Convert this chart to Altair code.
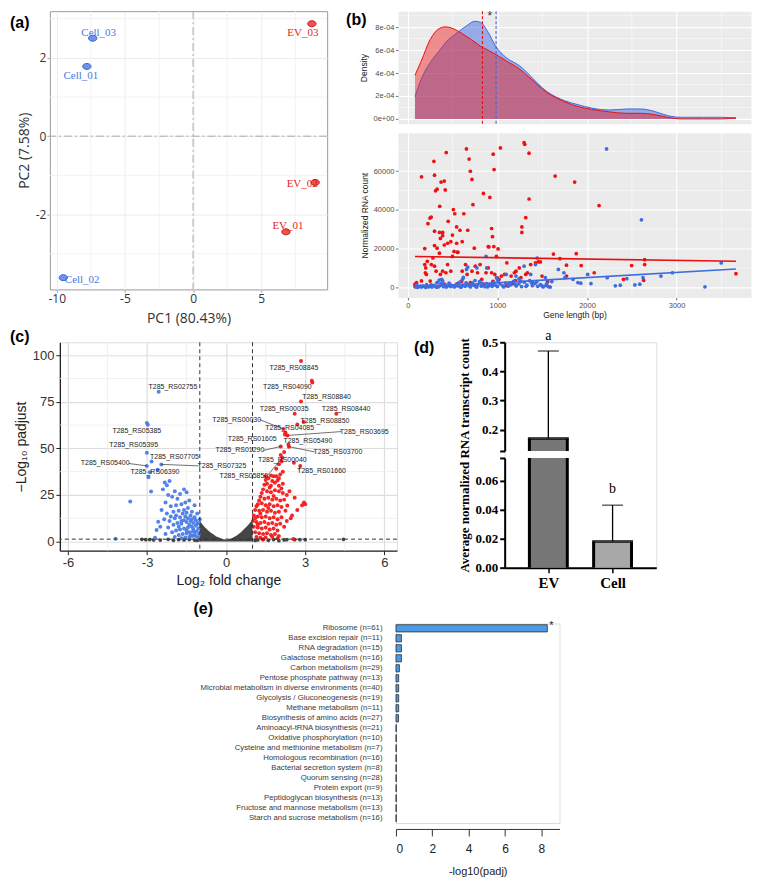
import altair as alt
import pandas as pd

SANS = "Liberation Sans"
SERIF = "Liberation Serif"

# ================= (a) PCA =================
pca_name = ["Cell_01", "Cell_02", "Cell_03", "EV_01", "EV_02", "EV_03"]
pca_group = ["Cell", "Cell", "Cell", "EV", "EV", "EV"]
pca_pc1 = [-7.79, -9.52, -7.36, 6.81, 8.95, 8.71]
pca_pc2 = [1.78, -3.61, 2.50, -2.44, -1.18, 2.87]
pca_x_ticks = [-10, -5, 0, 5]
pca_y_ticks = [-2, 0, 2]
pca_x_minor = [-7.5, -2.5, 2.5, 7.5]
pca_y_minor = [-3, -1, 1, 3]

# ================= (b) density =================
dens_bp = [80, 150, 250, 350, 420, 550, 650, 750, 810, 900, 980, 1100, 1250, 1350, 1450,
           1550, 1650, 1750, 1900, 2050, 2250, 2450, 2600, 2750, 2900, 3050, 3300, 3500, 3662]
dens_ev = [3.81e-4, 5.05e-4, 6.93e-4, 7.88e-4, 8.03e-4, 7.71e-4, 7.22e-4, 6.70e-4, 6.35e-4,
           5.98e-4, 5.63e-4, 5.05e-4, 4.33e-4, 3.67e-4, 2.97e-4, 2.31e-4, 1.88e-4, 1.50e-4,
           1.07e-4, 0.84e-4, 0.61e-4, 0.49e-4, 0.49e-4, 0.38e-4, 0.14e-4, 0.0, 0.0, 0.0, 0.09e-4]
dens_cell = [1.93e-4, 3.47e-4, 4.91e-4, 5.92e-4, 6.64e-4, 7.51e-4, 8.09e-4, 8.52e-4, 8.43e-4,
             7.51e-4, 6.35e-4, 5.34e-4, 4.62e-4, 3.90e-4, 3.09e-4, 2.40e-4, 1.93e-4, 1.59e-4,
             1.24e-4, 0.95e-4, 0.78e-4, 0.87e-4, 0.87e-4, 0.66e-4, 0.29e-4, 0.14e-4, 0.14e-4,
             0.14e-4, 0.09e-4]
dens_median_ev = [833]
dens_median_cell = [985]
dens_sig_bp = [916]
dens_sig_y = [9.2e-4]
b_x_ticks = [0, 1000, 2000, 3000]
b_x_minor = [500, 1500, 2500, 3500]
dens_y_ticks = [0, 2e-4, 4e-4, 6e-4, 8e-4]
dens_y_minor = [1e-4, 3e-4, 5e-4, 7e-4, 9e-4]
cnt_y_ticks = [0, 20000, 40000, 60000]
cnt_y_minor = [10000, 30000, 50000, 70000]

# ================= (b) scatter (gene length, normalized count) =================
ev_points = [
    (153, 57060), (291, 65000), (298, 57900), (309, 49800), (327, 50640), (356, 41860),
    (371, 54350), (407, 54860), (418, 50300), (429, 69550), (225, 32900), (247, 35800),
    (262, 36300), (298, 29000), (353, 28360), (389, 28360), (364, 25300), (298, 21600),
    (189, 20090), (451, 34100), (509, 40170), (524, 38000), (545, 31200), (582, 29500),
    (625, 38000), (669, 29500), (716, 55700), (654, 71400), (684, 66200), (698, 59900),
    (727, 42700), (742, 20250), (844, 48450), (916, 46400), (935, 30400), (945, 26200),
    (953, 68700), (963, 60800), (905, 20900), (1007, 19900), (1033, 71900), (1298, 74600),
    (1305, 73800), (1353, 69200), (1353, 45600), (1316, 36000), (1273, 31200), (1273, 28360),
    (1644, 57400), (1862, 54350), (2134, 42200), (327, 20250), (407, 21900), (444, 22800),
    (480, 23600), (498, 27000), (545, 22800), (607, 23600), (898, 21100), (960, 21100),
    (989, 16000), (389, 26700), (553, 18200), (516, 18600), (189, 11800), (200, 10100),
    (218, 13500), (207, 6750), (196, 7600), (262, 11800), (280, 15200), (298, 11000),
    (316, 8400), (353, 17700), (364, 6750), (389, 8400), (425, 7600), (444, 11800),
    (480, 8400), (498, 16000), (560, 18100), (607, 8400), (644, 11800), (662, 6750),
    (716, 8400), (753, 11000), (778, 7600), (807, 11800), (825, 4200), (873, 7600),
    (898, 10100), (935, 7600), (971, 6750), (1018, 4200), (1044, 5900), (1080, 6750),
    (1105, 12700), (1153, 5900), (1189, 7600), (1207, 8400), (1244, 10100), (1262, 5060),
    (1316, 6750), (1335, 7600), (1371, 11800), (1425, 12700), (1455, 13200), (1480, 13200),
    (1498, 5900), (98, 2500), (153, 3400), (327, 2500), (407, 1700), (553, 2000),
    (698, 2500), (844, 1700), (953, 2500), (1171, 2000), (1389, 2500), (80, 1700),
    (80, 500), (1625, 17200), (1698, 14850), (1771, 11480), (1771, 5900), (1935, 11300),
    (1880, 17400), (2080, 7600), (2407, 4200), (2498, 11300), (2643, 11800), (2643, 14350),
    (2632, 3700), (3662, 7100), (1560, 3000), (1200, 3500), (950, 3200), (600, 3000),
    (250, 3300), (1100, 1000), (700, 800), (1000, 5000),
]
cell_points = [
    (90, 300), (100, 1200), (120, 500), (150, 200), (170, 900), (190, 400), (210, 1500),
    (230, 300), (250, 800), (270, 200), (290, 1100), (310, 600), (330, 2500), (340, 300),
    (360, 900), (380, 1800), (400, 400), (420, 1300), (440, 700), (460, 2200), (480, 500),
    (500, 1000), (520, 300), (540, 1600), (560, 800), (580, 2800), (600, 400), (620, 1200),
    (640, 600), (660, 1900), (680, 900), (700, 300), (720, 2400), (740, 1100), (760, 500),
    (780, 1500), (800, 3000), (820, 700), (840, 1300), (860, 400), (880, 2000), (900, 900),
    (920, 1600), (940, 600), (960, 2600), (980, 1100), (1000, 500), (1030, 1800), (1060, 900),
    (1090, 2300), (1120, 700), (1150, 1400), (1180, 3100), (1210, 800), (1240, 1900),
    (1270, 500), (1300, 2700), (1330, 1200), (1360, 3500), (1390, 900), (1420, 2000),
    (1450, 600), (1480, 1500), (1510, 300), (1540, 1000), (1570, 400), (110, 100), (140, 700),
    (200, 100), (260, 1400), (320, 150), (370, 2000), (430, 200), (470, 1700), (530, 900),
    (590, 150), (650, 2400), (710, 1300), (770, 200), (830, 2100), (890, 300), (950, 1500),
    (1010, 2900), (1070, 300), (1130, 2200), (1200, 1500), (1260, 3200), (1320, 600),
    (1380, 2400), (1440, 3000), (1500, 800), (1550, 2000), (1590, 200), (350, 3800),
    (610, 4200), (750, 3600), (1000, 4000), (1240, 4500), (669, 10470), (655, 9290),
    (771, 10100), (880, 10100), (873, 16040), (1298, 11000), (1425, 11800), (1444, 15200),
    (378, 4200), (389, 3400), (1680, 9300), (1742, 7600), (1844, 4200), (2007, 6750),
    (2225, 5060), (2316, 840), (2371, 1180), (2444, 4560), (2534, 1350), (2589, 1690),
    (2625, 5060), (2825, 5900), (2953, 7600), (3498, 12660), (3316, 340), (2218, 71400),
    (2607, 34900), (1753, 5060), (1898, 2530), (1930, 2200), (2044, 2030), (1607, 3040),
    (1535, 5060), (1371, 6750), (1207, 5900), (1098, 6750), (989, 5060), (620, 5200),
]
fit_len = [80, 3662]
fit_ev = [16000, 13500]
fit_cell = [0, 9500]

# ================= (c) volcano =================
volcano_down = [
    (-2.56, 80.4), (-3.01, 63.6), (-2.97, 62.6), (-3.01, 47.7), (-2.83, 42.9), (-3.01, 40.6),
    (-2.46, 41.4), (-2.95, 34.5), (-2.9, 37.2), (-2.6, 38.5), (-3.64, 21.5), (-4.2, 1.5),
    (-2.64, 6.2), (-2.58, 10.6), (-2.85, 26.8), (-2.33, 31.7), (-2.25, 30.2), (-2.15, 32.5),
    (-2.4, 28), (-2.2, 25), (-2.05, 24), (-1.95, 27), (-1.85, 23), (-1.75, 25.5), (-1.6, 28),
    (-1.5, 26.5), (-2.3, 21), (-2.1, 19), (-1.9, 19.5), (-1.7, 20), (-1.55, 21), (-1.4, 22),
    (-2.45, 17), (-2.25, 15), (-2.0, 16), (-1.8, 16.5), (-1.6, 17), (-1.45, 18), (-1.3, 16),
    (-2.35, 12), (-2.15, 11), (-1.95, 12.5), (-1.75, 13), (-1.55, 13.5), (-1.35, 14),
    (-1.2, 13), (-2.5, 8), (-2.2, 7.5), (-2.0, 9), (-1.85, 10), (-1.7, 9.5), (-1.5, 10.5),
    (-1.35, 11), (-1.15, 11.5), (-1.05, 10), (-2.3, 4), (-2.05, 5), (-1.9, 6), (-1.75, 6.5),
    (-1.6, 7), (-1.45, 7.5), (-1.3, 8), (-1.15, 8.5), (-1.05, 7), (-1.95, 2.5), (-1.8, 3.5),
    (-1.65, 4), (-1.5, 4.5), (-1.38, 5), (-1.25, 5.5), (-1.12, 5.5), (-1.03, 4), (-1.7, 1.8),
    (-1.55, 2.2), (-1.4, 2.5), (-1.28, 3), (-1.15, 2.8), (-1.05, 2), (-2.7, 2), (-1.2, 19.5),
    (-1.1, 15), (-1.25, 10), (-1.4, 9), (-1.6, 11.5), (-1.8, 8), (-1.25, 6.8), (-1.45, 12.5),
    (-1.65, 15), (-1.0, 12), (-1.1, 9.5), (-1.2, 4), (-1.35, 3.5), (-1.5, 6), (-1.3, 12),
    (-1.5, 15.5), (-1.7, 11), (-1.9, 14), (-2.1, 13.5),
]
volcano_up = [
    (2.84, 96.8), (3.25, 86.2), (3.27, 85.3), (2.84, 75.1), (2.6, 68.6), (4.18, 68.6),
    (2.94, 64.1), (2.7, 62.8), (2.17, 60.4), (2.23, 57.4), (2.25, 58.5), (2.32, 56.9),
    (2.36, 52.1), (2.38, 50.9), (2.07, 51.0), (2.2, 48), (2.07, 46.5), (2.13, 44.9),
    (2.57, 42.3), (2.81, 40.5), (2.1, 43), (1.9, 39), (2.0, 41.5), (2.95, 21), (2.88, 19.5),
    (3.0, 20), (2.5, 14), (2.32, 19.4), (2.6, 23.5), (2.4, 27), (2.45, 12.5), (2.7, 17),
    (2.3, 11), (1.4, 1.2), (2.55, 1.4), (1.5, 35), (1.6, 34), (1.7, 35.5), (1.8, 35),
    (1.9, 35), (2.0, 34), (1.55, 31), (1.7, 30), (1.85, 31.5), (2.0, 30), (2.15, 31),
    (1.4, 28), (1.55, 27), (1.7, 26.5), (1.85, 27.5), (2.0, 27), (2.15, 26), (2.3, 25),
    (1.3, 24), (1.45, 23), (1.6, 23.5), (1.75, 22.5), (1.9, 23), (2.05, 22), (2.2, 22.5),
    (1.2, 20), (1.35, 20.5), (1.5, 19.5), (1.65, 20), (1.8, 19), (1.95, 19.5), (2.1, 18.5),
    (1.1, 17), (1.25, 16.5), (1.4, 17), (1.55, 16), (1.7, 16.5), (1.85, 15.5), (2.0, 16),
    (2.25, 16.5), (1.05, 14), (1.2, 13.5), (1.35, 13), (1.5, 13.5), (1.65, 12.5), (1.8, 13),
    (1.95, 12), (2.1, 13), (1.02, 11), (1.15, 10.5), (1.3, 10), (1.45, 10.5), (1.6, 9.5),
    (1.75, 10), (1.9, 9), (2.05, 9.5), (1.05, 8), (1.2, 7.5), (1.35, 7), (1.5, 7.5),
    (1.65, 6.5), (1.8, 7), (1.95, 6), (2.2, 8), (1.1, 5), (1.25, 4.5), (1.4, 4), (1.55, 4.5),
    (1.7, 3.5), (1.85, 4), (2.0, 3), (1.15, 2.5), (1.3, 2), (1.5, 2.2), (1.75, 2.6),
    (1.95, 1.8), (1.5, 33), (1.65, 29), (1.8, 24.5), (1.25, 22), (1.35, 26), (1.6, 18),
    (1.75, 32.5), (1.95, 32.8), (1.45, 30.5), (2.1, 28.5), (2.05, 36), (2.15, 37.5),
    (1.1, 12.5), (1.2, 9), (1.3, 15), (1.15, 19),
]
volcano_ns = [
    (-3.2, 1.2), (-3.05, 1.0), (-2.9, 1.1), (-2.75, 0.9), (-2.5, 0.8), (-2.2, 1.2), (-2.0, 0.7),
    (-1.8, 1.0), (-1.6, 0.9), (-1.4, 1.1), (-1.2, 0.8), (-1.1, 0.6), (1.1, 0.6), (1.2, 0.9),
    (1.4, 1.0), (1.6, 0.7), (1.8, 1.1), (2.0, 0.5), (2.2, 0.9), (2.3, 1.0), (2.6, 1.0),
    (2.8, 1.0), (3.0, 1.0), (4.45, 1.2),
]
core_lfc = [-1.0, -0.9, -0.8, -0.7, -0.6, -0.5, -0.4, -0.3, -0.2, -0.1, 0.0,
            0.1, 0.2, 0.3, 0.4, 0.5, 0.6, 0.7, 0.8, 0.9, 1.0]
core_top = [11.5, 9.2, 7.6, 6.2, 5.0, 4.0, 3.0, 2.3, 1.7, 1.3, 1.1,
            1.3, 1.8, 2.5, 3.3, 4.3, 5.6, 7.0, 8.4, 10.0, 12.0]
gene_label = ["T285_RS08845", "T285_RS04090", "T285_RS08840", "T285_RS00035", "T285_RS08440",
              "T285_RS08850", "T285_RS00030", "T285_RS04085", "T285_RS03695", "T285_RS01605",
              "T285_RS05490", "T285_RS01290", "T285_RS03700", "T285_RS00040", "T285_RS01660",
              "T285_RS05850", "T285_RS02755", "T285_RS05385", "T285_RS05395", "T285_RS07705",
              "T285_RS05400", "T285_RS07325", "T285_RS06390"]
gene_label_x = [2.57, 2.32, 3.81, 2.20, 4.55, 3.75, 0.40, 2.41, 5.24, 0.99, 3.10, 0.52, 4.24,
                2.13, 3.62, 0.67, -2.02, -3.39, -3.51, -1.96, -4.59, -0.16, -2.70]
gene_label_y = [93.3, 83.0, 77.4, 71.0, 71.0, 64.8, 65.4, 61.0, 58.7, 54.8, 53.9, 48.9, 48.1,
                43.8, 37.6, 35.0, 83.0, 59.2, 51.6, 45.6, 41.9, 40.6, 37.1]
leader_from_x = [1.27, 4.37, 1.41, 3.36, 1.58, 2.75, -3.70, -1.05]
leader_from_y = [65.4, 59.0, 48.9, 48.1, 35.7, 38.5, 41.9, 40.6]
leader_to_x = [2.17, 2.32, 2.07, 2.38, 2.13, 2.81, -3.01, -2.46]
leader_to_y = [60.4, 56.9, 51.0, 50.9, 44.9, 40.5, 40.6, 41.4]
c_x_ticks = [-6, -3, 0, 3, 6]
c_y_ticks = [0, 25, 50, 75, 100]
c_x_minor = [-4.5, -1.5, 1.5, 4.5]
c_y_minor = [12.5, 37.5, 62.5, 87.5]
c_fc_cut = [-1, 1]
c_p_cut = [1.3]

# ================= (d) bars with broken axis =================
d_group = ["EV", "Cell"]
d_mean = [0.17, 0.018]
d_upper = [0.47, 0.043]
d_letter = ["a", "b"]
D_LO, D_HI, D_TOP = 0.0755, 0.127, 0.5  # lower segment ends / upper segment starts

# ================= (e) KEGG enrichment =================
e_path = ["Ribosome (n=61)", "Base excision repair (n=11)", "RNA degradation (n=15)",
          "Galactose metabolism (n=16)", "Carbon metabolism (n=29)",
          "Pentose phosphate pathway (n=13)",
          "Microbial metabolism in diverse environments (n=40)",
          "Glycolysis / Gluconeogenesis (n=19)", "Methane metabolism (n=11)",
          "Biosynthesis of amino acids (n=27)", "Aminoacyl-tRNA biosynthesis (n=21)",
          "Oxidative phosphorylation (n=10)", "Cysteine and methionine metabolism (n=7)",
          "Homologous recombination (n=16)", "Bacterial secretion system (n=8)",
          "Quorum sensing (n=28)", "Protein export (n=9)", "Peptidoglycan biosynthesis (n=13)",
          "Fructose and mannose metabolism (n=13)", "Starch and sucrose metabolism (n=16)"]
e_value = [8.33, 0.30, 0.30, 0.30, 0.19, 0.15, 0.15, 0.15, 0.15, 0.14,
           0.02, 0.02, 0.02, 0.02, 0.02, 0.02, 0.02, 0.02, 0.02, 0.02]
e_sig = ["*", "", "", "", "", "", "", "", "", "", "", "", "", "", "", "", "", "", "", ""]


# ----------------------------------------------------------------------------
def panel_label(text, x, y, color="black"):
    return alt.Chart(pd.DataFrame({"t": [text]})).mark_text(
        font=SANS, fontSize=16, fontWeight="bold", align="left", baseline="middle", color=color
    ).encode(x=alt.value(x), y=alt.value(y), text="t:N")


def rules_df(vals):
    return pd.DataFrame({"g": vals})


def spacer(w):
    return alt.Chart(pd.DataFrame({"s": [0]})).mark_rect(color="white", opacity=0).encode(
        x=alt.value(0), x2=alt.value(w), y=alt.value(0), y2=alt.value(1)
    ).properties(width=w, height=1,
                 view=alt.ViewBackground(fill="white", stroke="white", strokeWidth=0, opacity=0))


# ================= panel (a) =================
WA, HA = 278, 279
ax_a_common = dict(labelFont="Open Sans", labelFontSize=12, labelColor="#333",
                   titleFont="Open Sans", titleFontSize=14, titleFontWeight="normal",
                   titleColor="#333", domain=False, tickColor="#aaaaaa", tickSize=3,
                   labelPadding=1, gridColor="#ececec",
                   labelExpr="replace(datum.label, '\u2212', '-')")
axis_ax = alt.Axis(title="PC1 (80.43%)", values=pca_x_ticks, titlePadding=7, **ax_a_common)
axis_ay = alt.Axis(title="PC2 (7.58%)", values=pca_y_ticks, **ax_a_common)
sc_ax = alt.Scale(domain=[-10.5, 9.83], nice=False, zero=False)
sc_ay = alt.Scale(domain=[-3.91, 3.19], nice=False, zero=False)


def XA(f):
    return alt.X(f, type="quantitative", scale=sc_ax, axis=axis_ax)


def YA(f):
    return alt.Y(f, type="quantitative", scale=sc_ay, axis=axis_ay)


pca_df = pd.DataFrame({"name": pca_name, "group": pca_group, "pc1": pca_pc1, "pc2": pca_pc2})
ELLIPSE = "M-1,0A1,0.72,0,1,1,1,0A1,0.72,0,1,1,-1,0Z"
grp_dom = ["Cell", "EV"]
a_layers = [
    alt.Chart(rules_df(pca_x_minor)).mark_rule(color="#f2f2f2", strokeWidth=1).encode(x=XA("g")),
    alt.Chart(rules_df(pca_y_minor)).mark_rule(color="#f2f2f2", strokeWidth=1).encode(y=YA("g")),
    alt.Chart(rules_df([0])).mark_rule(color="#a8a8a8", strokeWidth=1, strokeDash=[8, 3, 2, 3]).encode(x=XA("g")),
    alt.Chart(rules_df([0])).mark_rule(color="#a8a8a8", strokeWidth=1, strokeDash=[8, 3, 2, 3]).encode(y=YA("g")),
    alt.Chart(pca_df).mark_point(shape=ELLIPSE, size=70, filled=True, opacity=1, strokeWidth=1).encode(
        x=XA("pc1"), y=YA("pc2"),
        fill=alt.Fill("group:N", scale=alt.Scale(domain=grp_dom, range=["#7093ea", "#ef5050"]), legend=None),
        stroke=alt.Stroke("group:N", scale=alt.Scale(domain=grp_dom, range=["#3c60cc", "#c41818"]), legend=None),
    ),
]
pca_label_offset = {"Cell_01": (-6, 10), "Cell_02": (19, 2), "Cell_03": (6, -5),
                    "EV_01": (2, -6), "EV_02": (-13, 2), "EV_03": (-9, 9)}
for nm, (ddx, ddy) in pca_label_offset.items():
    a_layers.append(
        alt.Chart(pca_df).transform_filter(alt.datum.name == nm).mark_text(
            font=SERIF, fontSize=11, dx=ddx, dy=ddy, baseline="middle"
        ).encode(
            x=XA("pc1"), y=YA("pc2"), text="name:N",
            color=alt.Color("group:N", scale=alt.Scale(domain=grp_dom, range=["#4a78e0", "#e41c1c"]), legend=None),
        )
    )
a_layers.append(panel_label("(a)", -40, 12))
A = alt.layer(*a_layers).properties(
    width=WA, height=HA, view=alt.ViewBackground(fill="white", stroke="#9a9a9a", strokeWidth=1))

# ================= panel (b) =================
WB, HBD, HBS = 354, 113, 165
sc_bx = alt.Scale(domain=[-110, 3830], nice=False, zero=False)
sc_bdy = alt.Scale(domain=[-0.43e-4, 9.4e-4], nice=False, zero=False)
sc_bsy = alt.Scale(domain=[-5100, 79700], nice=False, zero=False)
ax_b = dict(labelFont=SANS, labelFontSize=7.5, labelColor="#4d4d4d", titleFont=SANS,
            titleFontSize=8.5, titleFontWeight="normal", titleColor="#1a1a1a", domain=False,
            tickColor="#333", tickSize=2.5, tickWidth=0.7, gridColor="white", gridWidth=1.1,
            labelPadding=1.5)
axis_bd_x = alt.Axis(title="", values=b_x_ticks, labels=False, ticks=False, **ax_b)
axis_bs_x = alt.Axis(title="Gene length (bp)", values=b_x_ticks, format="d", titlePadding=2, **ax_b)
axis_bd_y = alt.Axis(title="Density", values=dens_y_ticks,
                     labelExpr="datum.value == 0 ? '0e+00' : replace(format(datum.value, '.0e'), 'e-', 'e-0')",
                     **ax_b)
axis_bs_y = alt.Axis(title="Normalized RNA count", values=cnt_y_ticks, format="d", **ax_b)


def XBd(f):
    return alt.X(f, type="quantitative", scale=sc_bx, axis=axis_bd_x)


def XBs(f):
    return alt.X(f, type="quantitative", scale=sc_bx, axis=axis_bs_x)


def YBd(f):
    return alt.Y(f, type="quantitative", scale=sc_bdy, axis=axis_bd_y)


def YBs(f):
    return alt.Y(f, type="quantitative", scale=sc_bsy, axis=axis_bs_y)


dens_df = pd.DataFrame({"bp": dens_bp, "ev": dens_ev, "cell": dens_cell})
sig_df = pd.DataFrame({"bp": dens_sig_bp, "y": dens_sig_y, "t": ["*"]})
Bd = alt.layer(
    alt.Chart(rules_df(b_x_minor)).mark_rule(color="white", strokeWidth=0.5).encode(x=XBd("g")),
    alt.Chart(rules_df(dens_y_minor)).mark_rule(color="white", strokeWidth=0.5).encode(y=YBd("g")),
    alt.Chart(dens_df).mark_area(color="#4169e1", opacity=0.5, interpolate="monotone").encode(
        x=XBd("bp"), y=YBd("cell"), y2=alt.datum(0)),
    alt.Chart(dens_df).mark_line(color="#4169e1", strokeWidth=1, interpolate="monotone").encode(
        x=XBd("bp"), y=YBd("cell")),
    alt.Chart(dens_df).mark_area(color="#f01818", opacity=0.45, interpolate="monotone").encode(
        x=XBd("bp"), y=YBd("ev"), y2=alt.datum(0)),
    alt.Chart(dens_df).mark_line(color="#e81010", strokeWidth=1, interpolate="monotone").encode(
        x=XBd("bp"), y=YBd("ev")),
    alt.Chart(rules_df(dens_median_ev)).mark_rule(color="#e81010", strokeDash=[3, 2], strokeWidth=1.1).encode(x=XBd("g")),
    alt.Chart(rules_df(dens_median_cell)).mark_rule(color="#3f6be0", strokeDash=[3, 2], strokeWidth=1.1).encode(x=XBd("g")),
    alt.Chart(sig_df).mark_text(fontSize=12, color="#333", baseline="middle", dy=3).encode(
        x=XBd("bp"), y=YBd("y"), text="t:N"),
    panel_label("(b)", -52, 9),
).properties(width=WB, height=HBD, view=alt.ViewBackground(fill="#ebebeb", stroke="transparent"))

ev_df = pd.DataFrame(ev_points, columns=["len", "count"])
cell_df = pd.DataFrame(cell_points, columns=["len", "count"])
fit_df = pd.DataFrame({"len": fit_len, "ev": fit_ev, "cell": fit_cell})
Bs = alt.layer(
    alt.Chart(rules_df(b_x_minor)).mark_rule(color="white", strokeWidth=0.5).encode(x=XBs("g")),
    alt.Chart(rules_df(cnt_y_minor)).mark_rule(color="white", strokeWidth=0.5).encode(y=YBs("g")),
    alt.Chart(ev_df).mark_circle(color="#f01010", size=14, opacity=1).encode(x=XBs("len"), y=YBs("count")),
    alt.Chart(cell_df).mark_circle(color="#3f6be0", size=14, opacity=1).encode(x=XBs("len"), y=YBs("count")),
    alt.Chart(fit_df).mark_line(color="#e81010", strokeWidth=1.6).encode(x=XBs("len"), y=YBs("ev")),
    alt.Chart(fit_df).mark_line(color="#3f6be0", strokeWidth=1.6).encode(x=XBs("len"), y=YBs("cell")),
).properties(width=WB, height=HBS, view=alt.ViewBackground(fill="#ebebeb", stroke="transparent"))

B = alt.vconcat(Bd, Bs, spacing=6)

# ================= panel (c) =================
WC, HC = 338, 209
sc_cx = alt.Scale(domain=[-6.31, 6.48], nice=False, zero=False)
sc_cy = alt.Scale(domain=[-4.9, 106.9], nice=False, zero=False)
ax_c = dict(labelFont=SANS, labelFontSize=13, labelColor="#333", titleFont=SANS, titleFontSize=14,
            titleFontWeight="normal", titleColor="#222", domainColor="#222", domainWidth=1.3,
            tickColor="#222", tickSize=4, gridColor="#dedede", gridWidth=1.2,
            labelExpr="replace(datum.label, '\u2212', '-')")
axis_cx = alt.Axis(title="Log\u2082 fold change", values=c_x_ticks, **ax_c)
axis_cy = alt.Axis(title="\u2212Log\u2081\u2080 padjust", values=c_y_ticks, **ax_c)


def XC(f):
    return alt.X(f, type="quantitative", scale=sc_cx, axis=axis_cx)


def YC(f):
    return alt.Y(f, type="quantitative", scale=sc_cy, axis=axis_cy)


down_df = pd.DataFrame(volcano_down, columns=["lfc", "p"])
up_df = pd.DataFrame(volcano_up, columns=["lfc", "p"])
ns_df = pd.DataFrame(volcano_ns, columns=["lfc", "p"])
core_df = pd.DataFrame({"lfc": core_lfc, "top": core_top})
lab_df = pd.DataFrame({"gene": gene_label, "lx": gene_label_x, "ly": gene_label_y})
lead_df = pd.DataFrame({"sx": leader_from_x, "sy": leader_from_y, "px": leader_to_x, "py": leader_to_y})
C = alt.layer(
    alt.Chart(rules_df(c_x_minor)).mark_rule(color="#ececec", strokeWidth=0.8).encode(x=XC("g")),
    alt.Chart(rules_df(c_y_minor)).mark_rule(color="#ececec", strokeWidth=0.8).encode(y=YC("g")),
    alt.Chart(core_df).mark_area(color="#454545", opacity=1, interpolate="monotone").encode(
        x=XC("lfc"), y=YC("top"), y2=alt.datum(0)),
    alt.Chart(ns_df).mark_circle(color="#454545", size=14, opacity=1).encode(x=XC("lfc"), y=YC("p")),
    alt.Chart(down_df).mark_circle(color="#4a7ce6", size=16, opacity=0.95).encode(x=XC("lfc"), y=YC("p")),
    alt.Chart(up_df).mark_circle(color="#f41a1a", size=16, opacity=0.95).encode(x=XC("lfc"), y=YC("p")),
    alt.Chart(rules_df(c_fc_cut)).mark_rule(color="#333", strokeWidth=1, strokeDash=[4, 3]).encode(x=XC("g")),
    alt.Chart(rules_df(c_p_cut)).mark_rule(color="#333", strokeWidth=1, strokeDash=[4, 3]).encode(y=YC("g")),
    alt.Chart(lead_df).mark_rule(color="#333", strokeWidth=0.7).encode(
        x=XC("sx"), y=YC("sy"), x2=alt.X2("px"), y2=alt.Y2("py")),
    alt.Chart(lab_df).mark_text(font=SANS, fontSize=7, color="#222", baseline="middle").encode(
        x=XC("lx"), y=YC("ly"), text="gene:N"),
    panel_label("(c)", -50, -5),
).properties(width=WC, height=HC)

# ================= panel (d) =================
WD, HDU, HDL, HDG = 152, 109, 110, 7
HD = HDU + HDG + HDL
d_df = pd.DataFrame({"group": d_group, "mean": d_mean, "upper": d_upper, "letter": d_letter})
d_fill = {"EV": "#777777", "Cell": "#a8a8a8"}
sc_dx = alt.Scale(type="point", domain=d_group, padding=0.68)
sc_du = alt.Scale(domain=[D_HI, D_TOP], range=[HDU, 0], nice=False, zero=False)
sc_dl = alt.Scale(domain=[0, D_LO], range=[HD, HD - HDL], nice=False, zero=False)
ax_d = dict(orient="left", domainColor="black", domainWidth=2, tickColor="black", tickWidth=2,
            tickSize=5, labelFont=SERIF, labelFontWeight="bold", labelFontSize=13,
            labelColor="black", grid=False, labelPadding=2)
axis_du = alt.Axis(title="", values=[D_HI, 0.2, 0.3, 0.4, 0.5],
                   labelExpr="datum.value < 0.15 ? '' : format(datum.value, '.1f')", **ax_d)
axis_dl = alt.Axis(title="Average normalized RNA transcript count", titleFont=SERIF,
                   titleFontWeight="bold", titleFontSize=13, titleColor="black", titleY=HD / 2,
                   titlePadding=4, values=[0, 0.02, 0.04, 0.06, D_LO],
                   labelExpr="datum.value > 0.07 ? '' : format(datum.value, '.2f')", **ax_d)
axis_dx = alt.Axis(title="", labelFont=SERIF, labelFontWeight="bold", labelFontSize=15,
                   labelColor="black", domainColor="black", domainWidth=2, tickColor="black",
                   tickWidth=1.5, tickSize=5, labelAngle=0, labelPadding=3, grid=False)
XD = alt.X("group:N", scale=sc_dx, axis=axis_dx)


def YU(f):
    return alt.Y(f, type="quantitative", scale=sc_du, axis=axis_du)


def YL(f):
    return alt.Y(f, type="quantitative", scale=sc_dl, axis=axis_dl)


BAR_W = 38
upper_layers, lower_layers = [], []
for g in d_group:
    rows = alt.Chart(d_df).transform_filter(alt.datum.group == g).transform_calculate(
        lo_top=f"min(datum.mean, {D_LO})")
    up = rows.transform_filter(f"datum.mean >= {D_HI}")
    upper_layers += [
        up.mark_bar(size=BAR_W, fill=d_fill[g]).encode(x=XD, y=YU("mean"), y2=alt.datum(D_HI)),
        up.mark_rule(color="black", strokeWidth=3, xOffset=-BAR_W / 2).encode(x=XD, y=YU("mean"), y2=alt.datum(D_HI)),
        up.mark_rule(color="black", strokeWidth=3, xOffset=BAR_W / 2).encode(x=XD, y=YU("mean"), y2=alt.datum(D_HI)),
        up.mark_tick(color="black", size=BAR_W + 3, thickness=3).encode(x=XD, y=YU("mean")),
    ]
    lower_layers += [
        rows.mark_bar(size=BAR_W, fill=d_fill[g]).encode(x=XD, y=YL("lo_top:Q"), y2=alt.datum(0)),
        rows.mark_rule(color="black", strokeWidth=3, xOffset=-BAR_W / 2).encode(x=XD, y=YL("lo_top:Q"), y2=alt.datum(0)),
        rows.mark_rule(color="black", strokeWidth=3, xOffset=BAR_W / 2).encode(x=XD, y=YL("lo_top:Q"), y2=alt.datum(0)),
        rows.transform_filter(f"datum.mean <= {D_LO}").mark_tick(
            color="black", size=BAR_W + 3, thickness=3).encode(x=XD, y=YL("mean")),
    ]
err_up = alt.Chart(d_df).transform_filter(f"datum.upper >= {D_HI}")
err_lo = alt.Chart(d_df).transform_filter(f"datum.upper <= {D_LO}")
upper_layers += [
    err_up.mark_rule(color="black", strokeWidth=1.3).encode(x=XD, y=YU("mean"), y2="upper:Q"),
    err_up.mark_tick(color="black", size=21, thickness=1.3).encode(x=XD, y=YU("upper")),
    err_up.mark_text(font=SERIF, fontSize=14, dy=-15, color="black").encode(x=XD, y=YU("upper"), text="letter:N"),
    panel_label("(d)", -91, 6),
]
lower_layers += [
    err_lo.mark_rule(color="black", strokeWidth=1.3).encode(x=XD, y=YL("mean"), y2="upper:Q"),
    err_lo.mark_tick(color="black", size=21, thickness=1.3).encode(x=XD, y=YL("upper")),
    err_lo.mark_text(font=SERIF, fontSize=14, dy=-16, color="black").encode(x=XD, y=YL("upper"), text="letter:N"),
]
D = alt.layer(alt.layer(*upper_layers), alt.layer(*lower_layers)).resolve_scale(
    y="independent").properties(width=WD, height=HD)

# ================= panel (e) =================
WE, HE = 164, 200
e_df = pd.DataFrame({"path": e_path, "value": e_value, "sig": e_sig})
ey = alt.Y("path:N", sort=e_path, scale=alt.Scale(paddingInner=0.28, paddingOuter=0.12),
           axis=alt.Axis(title="", domain=False, ticks=False, labelFont=SANS, labelFontSize=7.8,
                         labelColor="#3a3a3a", labelPadding=14, labelLimit=400))
ex = alt.X("value:Q", scale=alt.Scale(domain=[0, 9], nice=False, zero=True),
           axis=alt.Axis(values=[0, 2, 4, 6, 8], offset=6, title="-log10(padj)", grid=False,
                         domainColor="#333", domainWidth=1, tickColor="#333", tickSize=7,
                         labelFont=SANS, labelFontSize=12, labelColor="#222", labelPadding=8,
                         titleFont=SANS, titleFontSize=11, titleFontWeight="normal",
                         titleColor="#222", titlePadding=11))
E = alt.layer(
    alt.Chart(e_df).mark_bar(fill="#4b9ae6", stroke="#2e2e2e", strokeWidth=0.8).encode(x=ex, y=ey),
    alt.Chart(e_df).mark_text(font=SANS, fontSize=11, align="left", dx=2, dy=-2, color="#222").encode(
        x=ex, y=ey, text="sig:N"),
    panel_label("(e)", -203, -15),
).properties(width=WE, height=HE)

row1 = alt.hconcat(alt.hconcat(spacer(1), A, spacing=0), B, spacing=17)
row2 = alt.hconcat(alt.hconcat(spacer(1), C, spacing=0), D, spacing=15)
row3 = alt.hconcat(spacer(100), E, spacing=85)

chart = alt.vconcat(alt.vconcat(row1, row2, spacing=2), row3, spacing=8).properties(
    padding=0).configure_view(stroke="transparent").configure(font=SANS)

chart.save("out.html", embed_options={"renderer": "svg", "actions": False})
